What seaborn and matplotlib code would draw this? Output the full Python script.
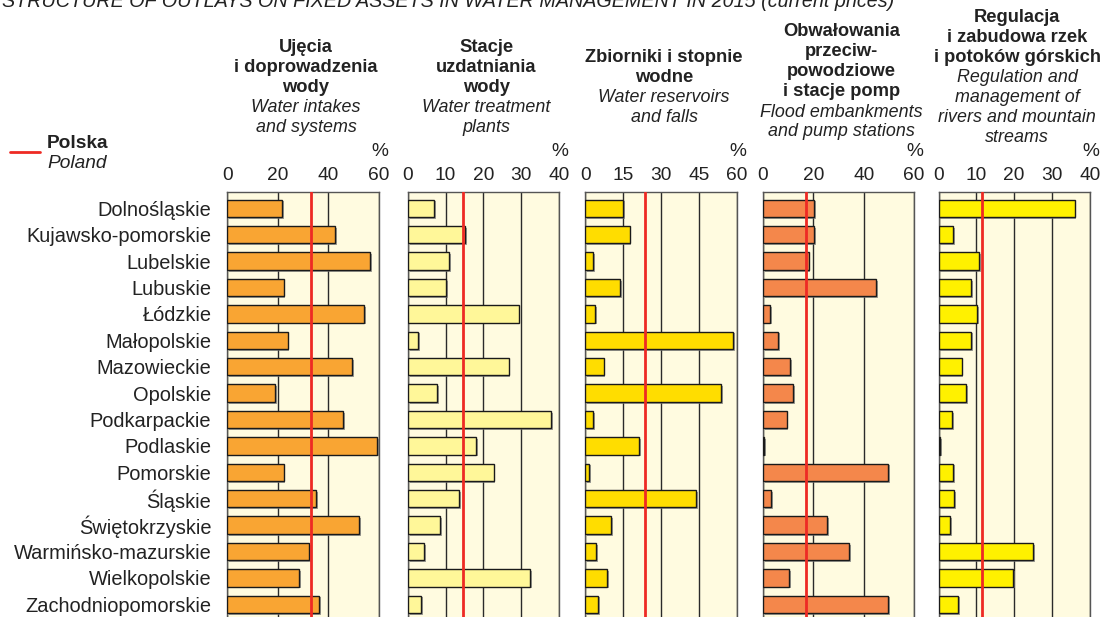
import matplotlib
matplotlib.use('Agg')
import matplotlib.pyplot as plt
import matplotlib.patheffects as pe
import seaborn as sns
import pandas as pd

# data (shares in %)
regions = ['Dolnośląskie', 'Kujawsko-pomorskie', 'Lubelskie', 'Lubuskie', 'Łódzkie',
           'Małopolskie', 'Mazowieckie', 'Opolskie', 'Podkarpackie', 'Podlaskie',
           'Pomorskie', 'Śląskie', 'Świętokrzyskie', 'Warmińsko-mazurskie',
           'Wielkopolskie', 'Zachodniopomorskie']

intakes = [21.8, 42.9, 56.7, 22.3, 54.1, 23.9, 49.4, 19.0, 46.0, 59.5, 22.3, 35.3, 52.3, 32.5, 28.5, 36.3]
treatment = [7.0, 15.2, 10.9, 10.2, 29.3, 2.8, 26.7, 7.7, 37.9, 18.1, 22.7, 13.5, 8.6, 4.3, 32.3, 3.5]
reservoirs = [15.0, 17.5, 3.1, 13.6, 3.8, 58.5, 7.2, 53.9, 3.1, 21.4, 1.5, 43.8, 10.3, 4.1, 8.7, 5.0]
embankments = [20.4, 20.5, 18.2, 45.0, 2.8, 6.2, 10.7, 12.1, 9.4, 0.5, 49.8, 3.3, 25.5, 34.3, 10.4, 49.8]
rivers = [36.0, 3.9, 10.8, 8.7, 10.3, 8.6, 6.1, 7.3, 3.6, 0.5, 3.8, 4.2, 3.0, 25.1, 19.7, 5.2]

poland = [33.3, 14.6, 23.6, 17.2, 11.4]
x_max = [60, 40, 60, 60, 40]
x_step = [20, 10, 15, 20, 10]

titles_pl = ['Ujęcia\ni doprowadzenia\nwody',
             'Stacje\nuzdatniania\nwody',
             'Zbiorniki i stopnie\nwodne',
             'Obwałowania\nprzeciw-\npowodziowe\ni stacje pomp',
             'Regulacja\ni zabudowa rzek\ni potoków górskich']
titles_en = ['Water intakes\nand systems',
             'Water treatment\nplants',
             'Water reservoirs\nand falls',
             'Flood embankments\nand pump stations',
             'Regulation and\nmanagement of\nrivers and mountain\nstreams']

series = [intakes, treatment, reservoirs, embankments, rivers]
colors = ['#F9A533', '#FFF799', '#FFDD00', '#F4874B', '#FFF100']

# layout in pixels
W, H = 1107, 617
panel_left = [227.3, 407.7, 585.4, 762.8, 938.5]
panel_w = 151.3
top_px = 192.3
head_y = [47, 47, 58, 32, 18]
line_px = 20

sns.set_style('white')
plt.rcParams['font.family'] = ['Liberation Sans', 'DejaVu Sans']

fig = plt.figure(figsize=(W / 100, H / 100), dpi=100)

fig.text(2 / W, 1 - 7 / H,
         'STRUCTURE OF OUTLAYS ON FIXED ASSETS IN WATER MANAGEMENT IN 2015 (current prices)',
         style='italic', fontsize=14.2, va='baseline', ha='left', color='#222222')

shadow = [pe.SimplePatchShadow(offset=(1.3, -1.3), shadow_rgbFace='#777777', alpha=0.7), pe.Normal()]

for i, vals in enumerate(series):
    ax = fig.add_axes([panel_left[i] / W, 0, panel_w / W, (H - top_px) / H])
    df = pd.DataFrame({'region': regions, 'value': vals})
    sns.barplot(data=df, x='value', y='region', orient='h', color=colors[i], saturation=1,
                edgecolor='#1a1a1a', linewidth=1, width=0.66, ax=ax, zorder=3)
    for p in ax.patches:
        p.set_path_effects(shadow)

    ax.set_facecolor('#FFFBE0')
    ax.set_xlim(0, x_max[i])
    ax.set_ylim(15.48, -0.606)
    ax.set_xticks(range(0, x_max[i] + 1, x_step[i]))
    ax.xaxis.tick_top()
    ax.tick_params(axis='x', length=0, pad=6, labelsize=13.8, colors='#222222')
    ax.grid(axis='x', color='#2a2a2a', lw=1)
    ax.grid(axis='y', visible=False)
    ax.set_axisbelow(True)
    ax.axvline(poland[i], color='#EE2A24', lw=2, zorder=5)
    ax.set_xlabel('')
    ax.set_ylabel('')
    for s in ['top', 'left', 'right']:
        ax.spines[s].set_color('#555555')
        ax.spines[s].set_linewidth(1)
    ax.spines['bottom'].set_visible(False)

    if i == 0:
        ax.tick_params(axis='y', length=0, pad=11.5, labelsize=14.4, colors='#222222')
    else:
        ax.tick_params(axis='y', left=False, labelleft=False)

    right = panel_left[i] + panel_w
    fig.text((right + 1) / W, 1 - 152 / H, '%', fontsize=13.8,
             ha='center', va='center', color='#222222')

    # panel header: bold Polish lines, then italic English lines
    cx = (panel_left[i] + panel_w / 2 + 3) / W
    y = head_y[i]
    for line in titles_pl[i].split('\n'):
        fig.text(cx, 1 - y / H, line, fontsize=13.2, fontweight='bold',
                 ha='center', va='center', color='#222222')
        y += line_px
    for line in titles_en[i].split('\n'):
        fig.text(cx, 1 - y / H, line, fontsize=12.9, style='italic',
                 ha='center', va='center', color='#222222')
        y += line_px

# legend for the national average
fig.add_artist(plt.Line2D([10 / W, 40 / W], [1 - 152 / H, 1 - 152 / H], color='#EE2A24', lw=2))
fig.text(47 / W, 1 - 143 / H, 'Polska', fontsize=13.8, fontweight='bold', va='center', color='#222222')
fig.text(47 / W, 1 - 163 / H, 'Poland', fontsize=13.8, style='italic', va='center', color='#222222')

fig.savefig('out.png', dpi=100)
